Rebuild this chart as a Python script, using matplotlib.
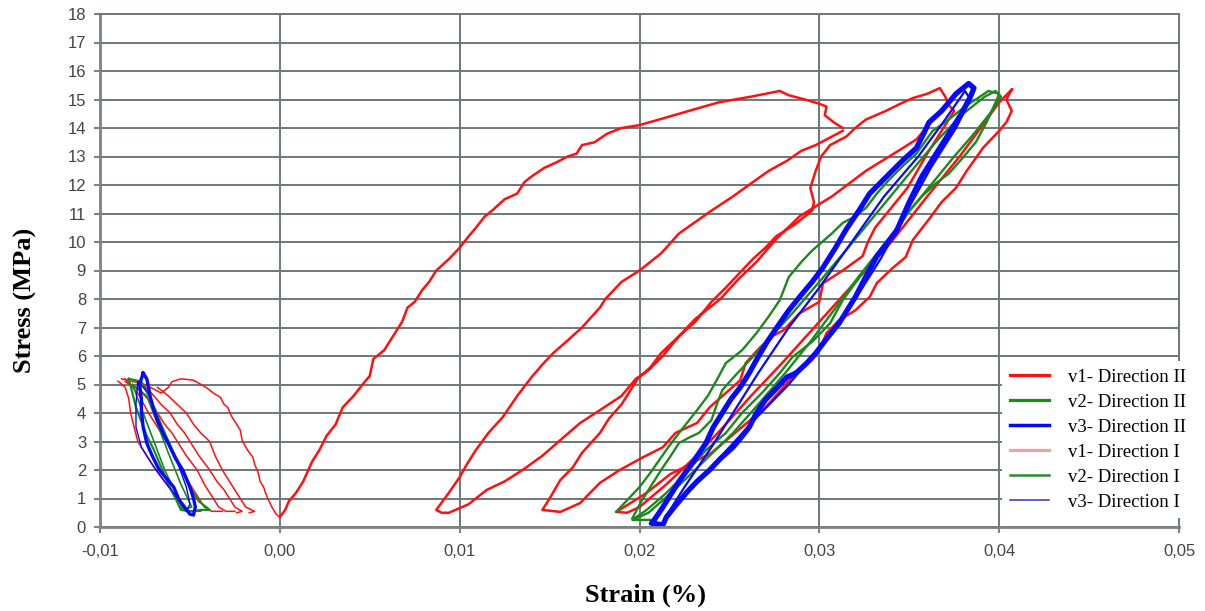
import matplotlib
matplotlib.use('Agg')
import matplotlib.pyplot as plt
from matplotlib.lines import Line2D

x_ticks = [-0.01, 0.0, 0.01, 0.02, 0.03, 0.04, 0.05]
x_tick_labels = ['-0,01', '0,00', '0,01', '0,02', '0,03', '0,04', '0,05']
y_ticks = list(range(0, 19))

series_labels = ['v1- Direction II', 'v2- Direction II', 'v3- Direction II',
                 'v1- Direction I', 'v2- Direction I', 'v3- Direction I']

# ---- v1 (red): first loading from zero up to the first peak
red_load_x = [0.0000, 0.0003, 0.0005, 0.0009, 0.0013, 0.0018, 0.0022, 0.0026, 0.0031, 0.0035,
              0.0041, 0.0046, 0.0050, 0.0052, 0.0058, 0.0063, 0.0068, 0.0071, 0.0075, 0.0079,
              0.0083, 0.0087, 0.0094, 0.0100, 0.0105, 0.0109, 0.0114, 0.0118, 0.0125, 0.0132,
              0.0136, 0.0140, 0.0147, 0.0154, 0.0160, 0.0165, 0.0168, 0.0175, 0.0182, 0.0190,
              0.0200, 0.0211, 0.0222, 0.0233, 0.0244, 0.0253, 0.0262, 0.0270, 0.0278, 0.0283,
              0.0292, 0.0300, 0.0304, 0.0303, 0.0308, 0.0313]
red_load_y = [0.35, 0.6, 0.9, 1.2, 1.6, 2.3, 2.7, 3.2, 3.6, 4.2,
              4.6, 5.0, 5.3, 5.9, 6.2, 6.7, 7.2, 7.7, 7.9, 8.3,
              8.6, 9.0, 9.4, 9.8, 10.2, 10.5, 10.9, 11.1, 11.5, 11.7,
              12.1, 12.3, 12.6, 12.8, 13.0, 13.1, 13.4, 13.5, 13.8, 14.0,
              14.1, 14.3, 14.5, 14.7, 14.9, 15.0, 15.1, 15.2, 15.3, 15.15,
              15.0, 14.85, 14.75, 14.45, 14.2, 14.0]

# ---- v1 (red): unloading / reloading cycles 2 and 3
red_cycle_x = [0.0313, 0.0298, 0.0290, 0.0282, 0.0272, 0.0263, 0.0252, 0.0240, 0.0231, 0.0222,
               0.0212, 0.0200, 0.0190, 0.0181, 0.0178, 0.0168, 0.0161, 0.0152, 0.0146, 0.0140,
               0.0132, 0.0124, 0.0116, 0.0109, 0.0104, 0.0100, 0.0094, 0.0087, 0.0090, 0.0094,
               0.0105, 0.0115, 0.0125, 0.0135, 0.0146, 0.0156, 0.0167, 0.0178, 0.0190, 0.0198,
               0.0205, 0.0213, 0.0222, 0.0231, 0.0240, 0.0248, 0.0254, 0.0263, 0.0270, 0.0276,
               0.0286, 0.0296, 0.0297, 0.0295, 0.0298, 0.0301, 0.0306, 0.0315,
               0.0320, 0.0326, 0.0337, 0.0345, 0.0352, 0.0360, 0.0367, 0.0370, 0.0372, 0.0375,
               0.0368, 0.0360, 0.0349, 0.0340, 0.0331, 0.0327, 0.0324, 0.0313, 0.0302, 0.0300,
               0.0289, 0.0280, 0.0274, 0.0267, 0.0259, 0.0256, 0.0248, 0.0239, 0.0232, 0.0220,
               0.0213, 0.0202, 0.0189, 0.0178, 0.0167, 0.0156, 0.0146,
               0.0150, 0.0156, 0.0163, 0.0168, 0.0178, 0.0183, 0.0190, 0.0199, 0.0206, 0.0212,
               0.0222, 0.0231, 0.0245, 0.0255, 0.0265, 0.0276, 0.0289, 0.0307, 0.0326, 0.0344,
               0.0354, 0.0362]
red_cycle_y = [13.9, 13.4, 13.2, 12.85, 12.5, 12.1, 11.6, 11.1, 10.7, 10.3,
               9.6, 9.0, 8.6, 8.0, 7.7, 7.0, 6.6, 6.1, 5.7, 5.26,
               4.6, 3.86, 3.3, 2.7, 2.2, 1.75, 1.2, 0.6, 0.5, 0.5,
               0.8, 1.3, 1.6, 2.0, 2.5, 3.05, 3.65, 4.1, 4.6, 5.2,
               5.5, 6.0, 6.7, 7.2, 7.9, 8.4, 8.8, 9.4, 9.8, 10.2,
               10.6, 11.1, 11.4, 11.9, 12.5, 13.0, 13.4, 13.7,
               14.0, 14.3, 14.6, 14.85, 15.05, 15.2, 15.4, 15.1, 14.8, 14.6,
               13.9, 13.1, 11.9, 11.2, 10.5, 10.0, 9.5, 9.0, 8.55, 7.9,
               7.5, 6.9, 6.7, 6.3, 5.75, 5.15, 4.7, 4.2, 3.65, 3.3,
               2.8, 2.45, 2.0, 1.55, 0.84, 0.53, 0.6,
               1.0, 1.65, 2.1, 2.6, 3.3, 3.8, 4.3, 5.2, 5.6, 6.1,
               6.7, 7.3, 8.0, 8.7, 9.3, 10.1, 10.9, 11.6, 12.5, 13.2,
               13.6, 14.2]

# ---- v1 (red): last, widest cycle up to 0.041
red_outer_x = [0.0407, 0.0404, 0.0407, 0.0404, 0.0400, 0.0391, 0.0382, 0.0376, 0.0368, 0.0361,
               0.0352, 0.0348, 0.0341, 0.0332, 0.0328, 0.0326, 0.0320, 0.0311, 0.0304, 0.0300,
               0.0296, 0.0285, 0.0280, 0.0270, 0.0255, 0.0240, 0.0228, 0.0217, 0.0204, 0.0194,
               0.0187, 0.0193, 0.0200, 0.0215, 0.0230, 0.0245, 0.0262, 0.0280, 0.0300, 0.0320,
               0.0340, 0.0360, 0.0378, 0.0392, 0.0400, 0.0407]
red_outer_y = [15.35, 15.0, 14.6, 14.2, 13.9, 13.3, 12.5, 11.9, 11.4, 10.8,
               10.07, 9.47, 9.1, 8.56, 8.07, 7.96, 7.6, 7.26, 6.8, 6.2,
               5.86, 5.26, 4.9, 4.2, 3.4, 2.6, 2.2, 1.85, 1.2, 0.8,
               0.53, 0.5, 0.7, 1.5, 2.4, 3.4, 4.6, 5.8, 7.2, 8.6,
               10.0, 11.6, 13.0, 14.2, 14.9, 15.35]

# ---- v1 (red): compression side (negative strain), fan of unloading lines
red_comp1_x = [-0.0090, -0.0086, -0.0084, -0.0083, -0.0081, -0.0079, -0.0074, -0.0069, -0.0063,
               -0.0057, -0.0054, -0.0050, -0.0044]
red_comp1_y = [5.12, 4.9, 4.5, 4.0, 3.5, 3.0, 2.5, 2.0, 1.5, 1.0, 0.7, 0.55, 0.55]
red_comp2_x = [-0.0086, -0.0079, -0.0073, -0.0068, -0.0063, -0.0058, -0.0054, -0.0050, -0.0045,
               -0.0042, -0.0038, -0.0032]
red_comp2_y = [5.2, 4.7, 4.0, 3.5, 3.0, 2.5, 2.0, 1.5, 1.0, 0.7, 0.55, 0.55]
red_comp3_x = [-0.0086, -0.0078, -0.0072, -0.0068, -0.0064, -0.0060, -0.0057, -0.0052, -0.0046,
               -0.0042, -0.0037, -0.0034, -0.0030, -0.0025]
red_comp3_y = [5.1, 4.8, 4.4, 4.0, 3.6, 3.3, 3.0, 2.5, 2.0, 1.5, 1.0, 0.7, 0.55, 0.55]
red_comp4_x = [-0.0076, -0.0070, -0.0066, -0.0061, -0.0057, -0.0053, -0.0050, -0.0045, -0.0039,
               -0.0035, -0.0031, -0.0028, -0.0025, -0.0021, -0.0024]
red_comp4_y = [5.0, 4.6, 4.3, 4.0, 3.6, 3.3, 3.0, 2.5, 2.0, 1.6, 1.3, 1.0, 0.7, 0.55, 0.5]
red_comp5_x = [-0.0068, -0.0062, -0.0057, -0.0052, -0.0048, -0.0044, -0.0039, -0.0036, -0.0032,
               -0.0028, -0.0025, -0.0022, -0.0019, -0.0014, -0.0017]
red_comp5_y = [4.9, 4.6, 4.3, 4.0, 3.6, 3.3, 3.0, 2.5, 2.0, 1.6, 1.3, 1.0, 0.7, 0.55, 0.5]
red_comp6_x = [-0.0088, -0.0075, -0.0066, -0.0062, -0.0060, -0.0055, -0.0048, -0.0041, -0.0037,
               -0.0033, -0.0031, -0.0029, -0.0027, -0.0024, -0.0022, -0.0021, -0.0018, -0.0015,
               -0.0014, -0.0012, -0.0011, -0.0009, -0.0008, -0.0006, -0.0004, -0.0002, 0.0000]
red_comp6_y = [5.2, 5.0, 4.7, 4.9, 5.1, 5.2, 5.15, 4.9, 4.7,
               4.55, 4.3, 4.2, 3.9, 3.6, 3.4, 3.05, 2.7, 2.45,
               2.2, 1.9, 1.6, 1.4, 1.2, 0.9, 0.65, 0.45, 0.35]

# ---- v2 (green)
green_left1_x = [-0.0084, -0.0082, -0.0080, -0.0077, -0.0074, -0.0070, -0.0066, -0.0062, -0.0058,
                 -0.0055, -0.0050, -0.0044, -0.0039, -0.0045, -0.0050, -0.0054, -0.0059, -0.0064,
                 -0.0068, -0.0072, -0.0077, -0.0084]
green_left1_y = [5.2, 4.7, 4.2, 3.7, 3.2, 2.7, 2.1, 1.5, 1.0,
                 0.6, 0.55, 0.6, 0.6, 0.9, 1.4, 1.9, 2.6, 3.3,
                 3.9, 4.5, 5.1, 5.2]
green_left2_x = [-0.0082, -0.0076, -0.0070, -0.0064, -0.0058, -0.0054, -0.0049, -0.0055, -0.0062,
                 -0.0068, -0.0074, -0.0082]
green_left2_y = [5.0, 4.0, 3.0, 2.0, 1.2, 0.6, 0.7, 1.5, 2.6, 3.6, 4.6, 5.0]

green_right1_x = [0.0187, 0.0194, 0.0200, 0.0206, 0.0211, 0.0216, 0.0222, 0.0227, 0.0232, 0.0238,
                  0.0243, 0.0248, 0.0257, 0.0265, 0.0272, 0.0278, 0.0283, 0.0290, 0.0296, 0.0307,
                  0.0313, 0.0320, 0.0326, 0.0332, 0.0339, 0.0347, 0.0354, 0.0363, 0.0370, 0.0376,
                  0.0382, 0.0387, 0.0394, 0.0400,
                  0.0398, 0.0393, 0.0387, 0.0379, 0.0372, 0.0365, 0.0357, 0.0350, 0.0344, 0.0337,
                  0.0328, 0.0320, 0.0313, 0.0306, 0.0296, 0.0285, 0.0278, 0.0268, 0.0257, 0.0248,
                  0.0237, 0.0226, 0.0215, 0.0204, 0.0196, 0.0206]
green_right1_y = [0.53, 1.0, 1.4, 1.9, 2.35, 2.8, 3.3, 3.7, 4.1, 4.6,
                  5.16, 5.75, 6.2, 6.8, 7.4, 7.96, 8.77, 9.3, 9.7, 10.3,
                  10.67, 10.9, 11.2, 11.7, 12.2, 12.7, 13.1, 13.9, 14.2, 14.5,
                  14.8, 15.0, 15.3, 15.2,
                  14.9, 14.2, 13.5, 12.9, 12.4, 12.07, 11.6, 11.1, 10.5, 10.0,
                  9.26, 8.56, 7.96, 7.15, 6.5, 5.96, 5.4, 4.7, 4.0, 3.3,
                  2.7, 1.9, 1.2, 0.6, 0.25, 0.25]
green_right2_x = [0.0196, 0.0201, 0.0206, 0.0212, 0.0217, 0.0222, 0.0228, 0.0233, 0.0240, 0.0243,
                  0.0246, 0.0253, 0.0262, 0.0272, 0.0285, 0.0300, 0.0316, 0.0333, 0.0350, 0.0366,
                  0.0380, 0.0392, 0.0398, 0.0401, 0.0396, 0.0386, 0.0375, 0.0362, 0.0349, 0.0336,
                  0.0322, 0.0308, 0.0295, 0.0281, 0.0266, 0.0252, 0.0239, 0.0226, 0.0214, 0.0205,
                  0.0198]
green_right2_y = [0.3, 0.9, 1.4, 2.0, 2.46, 2.95, 3.15, 3.3, 3.75, 4.3,
                  4.8, 5.3, 5.9, 6.6, 7.5, 8.6, 9.8, 11.1, 12.4, 13.6,
                  14.5, 15.1, 15.3, 15.1, 14.6, 13.8, 13.0, 12.0, 11.0, 9.9,
                  8.8, 7.6, 6.5, 5.4, 4.3, 3.3, 2.5, 1.7, 1.0, 0.5,
                  0.3]

# ---- v3 (blue)
blue_left_x = [-0.0076, -0.0078, -0.0077, -0.0077, -0.0076, -0.0074, -0.0071, -0.0067, -0.0063,
               -0.0059, -0.0056, -0.0053, -0.0050, -0.0048, -0.0047, -0.0048, -0.0050, -0.0052,
               -0.0054, -0.0058, -0.0061, -0.0065, -0.0068, -0.0070, -0.0072, -0.0073, -0.0074,
               -0.0076]
blue_left_y = [5.4, 5.0, 4.5, 4.1, 3.5, 2.95, 2.5, 2.0, 1.7,
               1.4, 0.95, 0.7, 0.45, 0.42, 0.7, 1.0, 1.4, 1.7,
               2.0, 2.4, 2.8, 3.3, 3.75, 4.1, 4.56, 4.9, 5.2,
               5.4]
blue_left_thin_x = [-0.0079, -0.0080, -0.0080, -0.0077, -0.0071, -0.0064, -0.0058, -0.0052, -0.0050,
                    -0.0052, -0.0056, -0.0060, -0.0066, -0.0070, -0.0073, -0.0079]
blue_left_thin_y = [5.1, 4.3, 3.5, 2.8, 2.2, 1.6, 1.1, 0.55, 0.8, 1.4, 2.1, 2.7, 3.4, 4.0, 4.7, 5.1]

blue_right_x = [0.0207, 0.0212, 0.0217, 0.0222, 0.0230, 0.0237, 0.0241, 0.0246, 0.0251, 0.0256,
                0.0261, 0.0265, 0.0271, 0.0278, 0.0283, 0.0289, 0.0296, 0.0302, 0.0309, 0.0315,
                0.0322, 0.0328, 0.0339, 0.0347, 0.0354, 0.0358, 0.0361, 0.0368, 0.0376, 0.0383,
                0.0386,
                0.0384, 0.0379, 0.0372, 0.0365, 0.0357, 0.0350, 0.0343, 0.0337, 0.0332, 0.0326,
                0.0320, 0.0311, 0.0304, 0.0298, 0.0293, 0.0287, 0.0282, 0.0276, 0.0270, 0.0265,
                0.0261, 0.0256, 0.0252, 0.0245, 0.0239, 0.0232, 0.0226, 0.0220, 0.0215, 0.0213,
                0.0207]
blue_right_y = [0.14, 0.6, 1.1, 1.6, 2.3, 2.95, 3.5, 4.0, 4.5, 4.9,
                5.4, 5.86, 6.5, 7.15, 7.6, 8.07, 8.6, 9.1, 9.8, 10.45,
                11.1, 11.7, 12.4, 12.9, 13.3, 13.8, 14.2, 14.6, 15.2, 15.56,
                15.4,
                15.1, 14.5, 13.8, 13.1, 12.3, 11.4, 10.4, 9.9, 9.5, 8.8,
                8.07, 7.15, 6.6, 6.1, 5.75, 5.4, 5.26, 4.85, 4.46, 4.0,
                3.5, 3.1, 2.8, 2.4, 2.0, 1.6, 1.2, 0.75, 0.35, 0.07,
                0.14]
blue_right_thin_x = [0.0214, 0.0225, 0.0240, 0.0252, 0.0266, 0.0283, 0.0300, 0.0318, 0.0336, 0.0355,
                     0.0370, 0.0381, 0.0384, 0.0376, 0.0362, 0.0348, 0.0334, 0.0318, 0.0300, 0.0283,
                     0.0266, 0.0250, 0.0234, 0.0220, 0.0214]
blue_right_thin_y = [0.3, 1.4, 2.8, 4.0, 5.4, 7.0, 8.4, 10.0, 11.6, 13.0,
                     14.3, 15.3, 15.0, 14.0, 12.6, 11.0, 9.4, 7.8, 6.3, 5.0,
                     3.9, 2.8, 1.7, 0.7, 0.3]

RED = '#ff1010'
GREEN = '#1b8a1b'
BLUE = '#0808ff'
GRID = '#6d7878'

fig = plt.figure(figsize=(12.05, 6.11), dpi=100)
ax = fig.add_axes([100 / 1205, 1 - 527 / 611, 1079 / 1205, 513 / 611])

# red curves
ax.plot(red_load_x, red_load_y, color=RED, lw=1.8)
ax.plot(red_cycle_x, red_cycle_y, color=RED, lw=1.8)
ax.plot(red_outer_x, red_outer_y, color=RED, lw=1.8)
for cx, cy in [(red_comp1_x, red_comp1_y), (red_comp2_x, red_comp2_y),
               (red_comp3_x, red_comp3_y), (red_comp4_x, red_comp4_y),
               (red_comp5_x, red_comp5_y), (red_comp6_x, red_comp6_y)]:
    ax.plot(cx, cy, color=RED, lw=1.1)

# green curves
ax.plot(green_left1_x, green_left1_y, color=GREEN, lw=1.6)
ax.plot(green_left2_x, green_left2_y, color=GREEN, lw=1.2)
ax.plot(green_right1_x, green_right1_y, color=GREEN, lw=1.7)
ax.plot(green_right2_x, green_right2_y, color=GREEN, lw=1.7)

# blue curves
ax.plot(blue_left_x, blue_left_y, color=BLUE, lw=2.4)
ax.plot(blue_left_thin_x, blue_left_thin_y, color=BLUE, lw=1.0)
ax.plot(blue_right_x, blue_right_y, color=BLUE, lw=3.8, solid_joinstyle='round')
ax.plot(blue_right_thin_x, blue_right_thin_y, color=BLUE, lw=1.6)

ax.set_xlim(-0.01, 0.05)
ax.set_ylim(0, 18)
ax.set_xticks(x_ticks)
ax.set_xticklabels(x_tick_labels)
ax.set_yticks(y_ticks)

ax.grid(True, color=GRID, lw=1.4)
ax.set_axisbelow(True)
for side in ['top', 'right']:
    ax.spines[side].set_color(GRID)
    ax.spines[side].set_linewidth(1.4)
for side in ['left', 'bottom']:
    ax.spines[side].set_color('#808080')
    ax.spines[side].set_linewidth(2.0)

ax.tick_params(axis='both', colors='#808080', length=4, width=1.5,
               labelcolor='#444444', labelsize=12)
ax.tick_params(axis='x', pad=8)
ax.tick_params(axis='y', pad=6)
for lab in ax.get_xticklabels() + ax.get_yticklabels():
    lab.set_family('Liberation Sans')

ax.set_xlabel('Strain (%)', family='Liberation Serif', fontweight='bold',
              fontsize=19, va='center')
ax.xaxis.set_label_coords(0.506, -0.1326)
ax.set_ylabel('Stress (MPa)', family='Liberation Serif', fontweight='bold',
              fontsize=19, va='center')
ax.yaxis.set_label_coords(-0.069, 0.4425)

handles = [Line2D([], [], color=RED, lw=2.3),
           Line2D([], [], color=GREEN, lw=2.3),
           Line2D([], [], color=BLUE, lw=2.5),
           Line2D([], [], color='#f2a0a8', lw=2.3),
           Line2D([], [], color='#2b8a35', lw=1.8),
           Line2D([], [], color='#3030c8', lw=1.1)]
leg = ax.legend(handles, series_labels, loc='upper left',
                bbox_to_anchor=(1002 / 1205, 1 - 361 / 611),
                bbox_transform=fig.transFigure, borderaxespad=0,
                frameon=True, fancybox=False, framealpha=1,
                facecolor='white', edgecolor='none',
                prop={'family': 'Liberation Serif', 'size': 13.5},
                handlelength=2.1, handletextpad=1.0, labelspacing=0.42,
                borderpad=0.4)
leg.set_zorder(10)

fig.savefig('out.png', dpi=100)
